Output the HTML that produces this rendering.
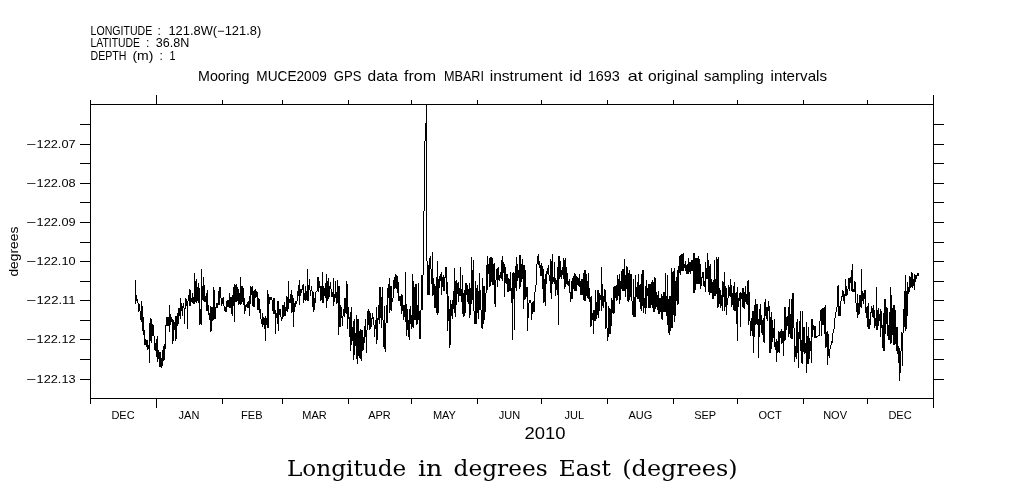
<!DOCTYPE html>
<html><head><meta charset="utf-8"><style>
html,body{margin:0;padding:0;background:#fff;width:1009px;height:504px;overflow:hidden}
svg{display:block}
text{fill:#000}
.s{font-family:"Liberation Sans",sans-serif;font-size:11px}
.s2{font-family:"Liberation Sans",sans-serif;font-size:17px}
.t{font-family:"Liberation Sans",sans-serif;font-size:15px}
.yl{font-family:"Liberation Sans",sans-serif;font-size:13.5px}
.h{font-family:"Liberation Sans",sans-serif;font-size:12px}
.serif{font-family:"DejaVu Serif",serif;font-size:21.5px}
</style></head><body>
<svg width="1009" height="504" viewBox="0 0 1009 504">
<rect width="1009" height="504" fill="#fff"/>
<g fill="#000" shape-rendering="crispEdges">
<rect x="90" y="104" width="844" height="1"/>
<rect x="90" y="398" width="844" height="1"/>
<rect x="90" y="104" width="1" height="295"/>
<rect x="933" y="104" width="1" height="295"/>
<rect x="90" y="100" width="1" height="5"/>
<rect x="90" y="398" width="1" height="6"/>
<rect x="156" y="95" width="1" height="10"/>
<rect x="156" y="398" width="1" height="10"/>
<rect x="222" y="100" width="1" height="5"/>
<rect x="222" y="398" width="1" height="6"/>
<rect x="282" y="100" width="1" height="5"/>
<rect x="282" y="398" width="1" height="6"/>
<rect x="348" y="100" width="1" height="5"/>
<rect x="348" y="398" width="1" height="6"/>
<rect x="411" y="100" width="1" height="5"/>
<rect x="411" y="398" width="1" height="6"/>
<rect x="477" y="100" width="1" height="5"/>
<rect x="477" y="398" width="1" height="6"/>
<rect x="541" y="100" width="1" height="5"/>
<rect x="541" y="398" width="1" height="6"/>
<rect x="607" y="100" width="1" height="5"/>
<rect x="607" y="398" width="1" height="6"/>
<rect x="673" y="100" width="1" height="5"/>
<rect x="673" y="398" width="1" height="6"/>
<rect x="737" y="100" width="1" height="5"/>
<rect x="737" y="398" width="1" height="6"/>
<rect x="803" y="100" width="1" height="5"/>
<rect x="803" y="398" width="1" height="6"/>
<rect x="867" y="100" width="1" height="5"/>
<rect x="867" y="398" width="1" height="6"/>
<rect x="933" y="95" width="1" height="10"/>
<rect x="933" y="398" width="1" height="10"/>
<rect x="80" y="124" width="11" height="1"/>
<rect x="933" y="124" width="11" height="1"/>
<rect x="80" y="144" width="11" height="1"/>
<rect x="933" y="144" width="11" height="1"/>
<rect x="80" y="163" width="11" height="1"/>
<rect x="933" y="163" width="11" height="1"/>
<rect x="80" y="183" width="11" height="1"/>
<rect x="933" y="183" width="11" height="1"/>
<rect x="80" y="202" width="11" height="1"/>
<rect x="933" y="202" width="11" height="1"/>
<rect x="80" y="222" width="11" height="1"/>
<rect x="933" y="222" width="11" height="1"/>
<rect x="80" y="242" width="11" height="1"/>
<rect x="933" y="242" width="11" height="1"/>
<rect x="80" y="261" width="11" height="1"/>
<rect x="933" y="261" width="11" height="1"/>
<rect x="80" y="281" width="11" height="1"/>
<rect x="933" y="281" width="11" height="1"/>
<rect x="80" y="300" width="11" height="1"/>
<rect x="933" y="300" width="11" height="1"/>
<rect x="80" y="320" width="11" height="1"/>
<rect x="933" y="320" width="11" height="1"/>
<rect x="80" y="339" width="11" height="1"/>
<rect x="933" y="339" width="11" height="1"/>
<rect x="80" y="359" width="11" height="1"/>
<rect x="933" y="359" width="11" height="1"/>
<rect x="80" y="379" width="11" height="1"/>
<rect x="933" y="379" width="11" height="1"/>
</g>
<path d="M135.5 280V304M136.5 295V301M137.5 299V303M138.5 303V312M139.5 304V311M140.5 311V320M141.5 301V322M142.5 306V331M143.5 317V335M144.5 330V345M145.5 339V345M146.5 340V347M147.5 340V350M148.5 345V349M149.5 323V363M150.5 318V341M151.5 319V343M152.5 324V336M153.5 325V336M154.5 336V350M155.5 343V351M156.5 339V357M157.5 336V362M158.5 350V359M159.5 352V367M160.5 352V367M161.5 358V368M162.5 350V366M163.5 346V361M164.5 344V360M165.5 325V349M166.5 317V326M167.5 317V326M168.5 317V326M169.5 305V332M170.5 314V325M171.5 317V322M172.5 319V344M173.5 320V341M174.5 322V330M175.5 316V341M176.5 316V339M177.5 313V326M178.5 308V324M179.5 308V316M180.5 298V319M181.5 303V311M182.5 306V316M183.5 303V308M184.5 308V324M185.5 298V309M186.5 299V306M187.5 301V329M188.5 295V301M189.5 289V306M190.5 290V306M191.5 298V302M192.5 293V303M193.5 297V304M194.5 273V304M195.5 281V302M196.5 279V303M197.5 287V301M198.5 283V303M199.5 288V325M200.5 309V324M201.5 269V325M202.5 286V300M203.5 277V301M204.5 285V302M205.5 296V302M206.5 293V311M207.5 290V311M208.5 305V315M209.5 313V320M210.5 306V332M211.5 307V331M212.5 307V321M213.5 287V320M214.5 290V319M215.5 307V319M216.5 303V308M217.5 303V308M218.5 291V305M219.5 287V305M220.5 287V298M221.5 298V306M222.5 298V304M223.5 297V306M224.5 306V311M225.5 307V312M226.5 301V312M227.5 300V307M228.5 300V307M229.5 293V308M230.5 297V308M231.5 297V314M232.5 295V316M233.5 287V306M234.5 284V322M235.5 285V302M236.5 284V302M237.5 287V301M238.5 289V305M239.5 293V304M240.5 277V305M241.5 286V304M242.5 286V302M243.5 288V305M244.5 298V314M245.5 305V311M246.5 304V307M247.5 302V308M248.5 301V308M249.5 296V316M250.5 286V304M251.5 287V295M252.5 286V306M253.5 291V307M254.5 290V307M255.5 289V298M256.5 291V297M257.5 292V310M258.5 298V310M259.5 299V313M260.5 309V319M261.5 319V324M262.5 313V327M263.5 317V325M264.5 318V329M265.5 316V341M266.5 318V325M267.5 290V328M268.5 294V328M269.5 297V304M270.5 297V300M271.5 297V300M272.5 300V311M273.5 298V314M274.5 298V314M275.5 310V334M276.5 313V318M277.5 301V324M278.5 301V331M279.5 309V315M280.5 309V317M281.5 317V321M282.5 305V319M283.5 305V317M284.5 302V316M285.5 307V316M286.5 296V311M287.5 297V312M288.5 281V309M289.5 299V303M290.5 294V303M291.5 290V313M292.5 295V312M293.5 298V327M294.5 303V312M295.5 301V307M296.5 301V304M297.5 291V301M298.5 285V296M299.5 280V305M300.5 289V296M301.5 289V293M302.5 285V290M303.5 284V303M304.5 293V300M305.5 286V301M306.5 291V300M307.5 269V301M308.5 285V301M309.5 279V290M310.5 290V296M311.5 286V291M312.5 291V307M313.5 292V312M314.5 298V310M315.5 292V303M316.5 291V292M317.5 277V291M318.5 277V292M319.5 281V288M320.5 286V301M321.5 286V300M322.5 272V303M323.5 286V303M324.5 288V296M325.5 283V298M326.5 274V308M327.5 281V301M328.5 278V299M329.5 286V297M330.5 282V289M331.5 289V297M332.5 292V297M333.5 278V306M334.5 294V302M335.5 281V298M336.5 292V304M337.5 280V303M338.5 286V335M339.5 286V327M340.5 305V327M341.5 307V318M342.5 316V326M343.5 309V316M344.5 298V317M345.5 298V313M346.5 281V314M347.5 284V329M348.5 307V319M349.5 317V337M350.5 312V351M351.5 307V345M352.5 327V341M353.5 321V360M354.5 319V355M355.5 333V346M356.5 315V359M357.5 319V364M358.5 319V356M359.5 331V358M360.5 329V359M361.5 330V361M362.5 330V351M363.5 337V350M364.5 326V343M365.5 319V337M366.5 330V353M367.5 311V330M368.5 309V325M369.5 311V330M370.5 313V329M371.5 318V327M372.5 313V319M373.5 317V325M374.5 325V337M375.5 320V329M376.5 307V344M377.5 318V340M378.5 305V320M379.5 287V324M380.5 287V318M381.5 297V328M382.5 287V320M383.5 320V347M384.5 306V349M385.5 323V352M386.5 305V323M387.5 288V323M388.5 284V298M389.5 278V313M390.5 286V310M391.5 286V311M392.5 298V302M393.5 280V298M394.5 277V289M395.5 274V288M396.5 275V289M397.5 276V293M398.5 282V301M399.5 296V301M400.5 296V306M401.5 294V314M402.5 295V311M403.5 305V320M404.5 305V317M405.5 272V322M406.5 304V336M407.5 309V330M408.5 320V337M409.5 309V340M410.5 306V324M411.5 315V329M412.5 274V327M413.5 281V328M414.5 287V320M415.5 284V320M416.5 284V325M417.5 305V324M418.5 283V320M419.5 311V339M420.5 310V339M421.5 275V310M422.5 275V310M423.5 211V275M424.5 141V211M425.5 123V141M426.5 104V261M427.5 261V295M428.5 265V295M429.5 258V295M430.5 256V269M431.5 269V284M432.5 252V296M433.5 278V295M434.5 284V308M435.5 286V308M436.5 277V313M437.5 261V315M438.5 279V313M439.5 276V288M440.5 274V281M441.5 272V295M442.5 277V287M443.5 275V291M444.5 277V291M445.5 267V278M446.5 267V294M447.5 282V331M448.5 296V321M449.5 309V348M450.5 300V345M451.5 304V316M452.5 300V319M453.5 291V309M454.5 268V313M455.5 281V317M456.5 280V305M457.5 283V294M458.5 282V302M459.5 288V296M460.5 267V296M461.5 289V302M462.5 275V314M463.5 293V317M464.5 290V316M465.5 283V313M466.5 283V295M467.5 285V302M468.5 289V304M469.5 283V318M470.5 288V315M471.5 257V304M472.5 270V300M473.5 260V311M474.5 311V324M475.5 281V324M476.5 288V324M477.5 285V313M478.5 291V319M479.5 273V310M480.5 290V310M481.5 310V328M482.5 278V329M483.5 286V324M484.5 286V320M485.5 293V312M486.5 265V293M487.5 256V290M488.5 264V274M489.5 258V287M490.5 257V286M491.5 257V282M492.5 258V285M493.5 264V285M494.5 263V304M495.5 280V307M496.5 269V280M497.5 268V287M498.5 267V280M499.5 275V281M500.5 272V278M501.5 260V279M502.5 256V281M503.5 262V273M504.5 264V297M505.5 267V283M506.5 274V284M507.5 274V292M508.5 278V292M509.5 279V291M510.5 272V291M511.5 288V303M512.5 273V340M513.5 272V299M514.5 273V330M515.5 266V288M516.5 257V291M517.5 264V281M518.5 270V278M519.5 255V289M520.5 255V287M521.5 264V282M522.5 259V279M523.5 265V309M524.5 265V300M525.5 270V299M526.5 287V297M527.5 287V331M528.5 303V318M529.5 300V303M530.5 300V303M531.5 303V320M532.5 302V314M533.5 301V312M534.5 292V312M535.5 285V292M536.5 264V285M537.5 256V264M538.5 254V265M539.5 261V268M540.5 265V276M541.5 263V276M542.5 266V289M543.5 269V303M544.5 279V302M545.5 274V306M546.5 271V284M547.5 268V274M548.5 265V275M549.5 275V281M550.5 259V293M551.5 261V299M552.5 254V284M553.5 277V282M554.5 262V284M555.5 278V296M556.5 280V290M557.5 267V295M558.5 256V325M559.5 256V279M560.5 261V277M561.5 270V279M562.5 267V275M563.5 258V279M564.5 260V289M565.5 258V287M566.5 267V284M567.5 273V285M568.5 281V286M569.5 279V293M570.5 292V302M571.5 281V299M572.5 278V299M573.5 276V289M574.5 273V291M575.5 274V291M576.5 276V291M577.5 277V285M578.5 278V286M579.5 274V287M580.5 281V295M581.5 279V295M582.5 279V295M583.5 273V300M584.5 270V301M585.5 270V301M586.5 274V296M587.5 281V298M588.5 273V299M589.5 288V302M590.5 297V327M591.5 296V326M592.5 313V320M593.5 310V334M594.5 310V321M595.5 290V321M596.5 302V319M597.5 290V315M598.5 290V318M599.5 293V311M600.5 295V300M601.5 267V311M602.5 284V306M603.5 296V308M604.5 289V302M605.5 290V329M606.5 302V328M607.5 328V341M608.5 306V337M609.5 308V334M610.5 309V334M611.5 298V326M612.5 300V313M613.5 287V314M614.5 286V313M615.5 286V298M616.5 285V301M617.5 275V300M618.5 279V296M619.5 274V304M620.5 281V300M621.5 271V289M622.5 269V291M623.5 269V291M624.5 259V291M625.5 275V297M626.5 266V289M627.5 267V301M628.5 273V302M629.5 270V300M630.5 274V297M631.5 274V301M632.5 301V315M633.5 279V317M634.5 297V317M635.5 275V317M636.5 287V297M637.5 282V299M638.5 274V299M639.5 285V302M640.5 284V309M641.5 274V311M642.5 270V306M643.5 270V313M644.5 298V308M645.5 286V314M646.5 280V308M647.5 288V296M648.5 284V308M649.5 284V308M650.5 284V308M651.5 282V305M652.5 280V308M653.5 282V312M654.5 277V312M655.5 278V309M656.5 292V307M657.5 295V310M658.5 291V314M659.5 298V314M660.5 298V312M661.5 294V319M662.5 296V320M663.5 292V312M664.5 292V312M665.5 273V312M666.5 296V316M667.5 275V325M668.5 299V333M669.5 296V335M670.5 296V331M671.5 268V328M672.5 272V328M673.5 271V315M674.5 268V322M675.5 281V316M676.5 277V301M677.5 270V305M678.5 266V304M679.5 256V273M680.5 255V275M681.5 254V271M682.5 254V271M683.5 253V271M684.5 264V268M685.5 261V271M686.5 265V274M687.5 264V274M688.5 258V274M689.5 262V272M690.5 262V274M691.5 260V271M692.5 260V271M693.5 253V293M694.5 253V293M695.5 258V290M696.5 258V284M697.5 258V284M698.5 256V284M699.5 259V284M700.5 264V289M701.5 277V286M702.5 272V278M703.5 272V286M704.5 281V287M705.5 262V292M706.5 268V279M707.5 253V279M708.5 260V292M709.5 266V295M710.5 264V293M711.5 279V293M712.5 282V299M713.5 280V299M714.5 260V296M715.5 279V296M716.5 257V294M717.5 259V308M718.5 257V307M719.5 288V304M720.5 290V308M721.5 295V306M722.5 281V311M723.5 282V297M724.5 272V311M725.5 286V307M726.5 288V315M727.5 298V305M728.5 285V298M729.5 287V296M730.5 279V297M731.5 285V307M732.5 293V305M733.5 286V310M734.5 282V311M735.5 293V311M736.5 292V324M737.5 287V341M738.5 298V307M739.5 293V301M740.5 292V327M741.5 293V299M742.5 288V307M743.5 288V308M744.5 292V309M745.5 286V302M746.5 294V304M747.5 281V305M748.5 280V325M749.5 292V321M750.5 321V336M751.5 318V331M752.5 311V336M753.5 311V353M754.5 305V337M755.5 299V325M756.5 304V324M757.5 304V325M758.5 319V358M759.5 309V337M760.5 304V325M761.5 315V333M762.5 320V335M763.5 318V342M764.5 302V343M765.5 299V316M766.5 307V319M767.5 307V321M768.5 301V311M769.5 306V353M770.5 317V353M771.5 312V349M772.5 320V342M773.5 328V338M774.5 319V347M775.5 342V350M776.5 339V362M777.5 341V353M778.5 331V352M779.5 332V353M780.5 331V338M781.5 329V344M782.5 331V343M783.5 331V356M784.5 307V341M785.5 307V340M786.5 317V330M787.5 316V326M788.5 307V337M789.5 299V334M790.5 314V338M791.5 299V339M792.5 293V339M793.5 293V328M794.5 328V362M795.5 346V357M796.5 322V359M797.5 319V353M798.5 332V368M799.5 321V339M800.5 311V351M801.5 340V363M802.5 311V364M803.5 327V352M804.5 327V354M805.5 343V353M806.5 322V373M807.5 336V364M808.5 327V364M809.5 338V359M810.5 341V351M811.5 319V363M812.5 319V337M813.5 325V330M814.5 326V338M815.5 326V338M816.5 336V338M817.5 336V337M818.5 335V336M819.5 321V336M820.5 310V321M821.5 309V336M822.5 308V325M823.5 308V325M824.5 307V334M825.5 305V348M826.5 332V347M827.5 331V365M828.5 334V356M829.5 349V358M830.5 345V349M831.5 341V345M832.5 333V343M833.5 329V333M834.5 318V329M835.5 312V318M836.5 307V312M837.5 286V307M838.5 285V316M839.5 306V316M840.5 301V316M841.5 296V301M842.5 290V297M843.5 291V301M844.5 294V304M845.5 279V296M846.5 286V296M847.5 289V295M848.5 278V289M849.5 278V291M850.5 277V283M851.5 270V291M852.5 264V292M853.5 289V292M854.5 281V292M855.5 282V303M856.5 303V312M857.5 294V318M858.5 303V315M859.5 295V314M860.5 295V307M861.5 269V308M862.5 291V301M863.5 293V304M864.5 290V299M865.5 290V313M866.5 307V318M867.5 306V327M868.5 303V329M869.5 319V329M870.5 312V325M871.5 306V313M872.5 308V317M873.5 305V318M874.5 310V328M875.5 318V326M876.5 287V330M877.5 310V330M878.5 308V326M879.5 314V321M880.5 309V337M881.5 311V328M882.5 325V348M883.5 313V351M884.5 299V351M885.5 299V334M886.5 307V324M887.5 308V336M888.5 325V340M889.5 312V340M890.5 287V344M891.5 295V343M892.5 308V335M893.5 305V345M894.5 305V345M895.5 310V344M896.5 327V351M897.5 327V354M898.5 346V363M899.5 348V381M900.5 351V373M901.5 332V351M902.5 333V366M903.5 309V333M904.5 291V327M905.5 275V331M906.5 291V329M907.5 282V316M908.5 287V294M909.5 276V292M910.5 277V288M911.5 272V287M912.5 273V288M913.5 279V286M914.5 274V290M915.5 275V282M916.5 275V279M917.5 273V276M918.5 273V276" stroke="#000" stroke-width="1" fill="none" shape-rendering="crispEdges"/>
<text class="s" x="26.2" y="148.3" textLength="10" lengthAdjust="spacingAndGlyphs">−</text>
<text class="s" x="36.6" y="148.3" textLength="39" lengthAdjust="spacingAndGlyphs">122.07</text>
<text class="s" x="26.2" y="187.3" textLength="10" lengthAdjust="spacingAndGlyphs">−</text>
<text class="s" x="36.6" y="187.3" textLength="39" lengthAdjust="spacingAndGlyphs">122.08</text>
<text class="s" x="26.2" y="226.3" textLength="10" lengthAdjust="spacingAndGlyphs">−</text>
<text class="s" x="36.6" y="226.3" textLength="39" lengthAdjust="spacingAndGlyphs">122.09</text>
<text class="s" x="26.2" y="265.3" textLength="10" lengthAdjust="spacingAndGlyphs">−</text>
<text class="s" x="36.6" y="265.3" textLength="39" lengthAdjust="spacingAndGlyphs">122.10</text>
<text class="s" x="26.2" y="304.3" textLength="10" lengthAdjust="spacingAndGlyphs">−</text>
<text class="s" x="36.6" y="304.3" textLength="39" lengthAdjust="spacingAndGlyphs">122.11</text>
<text class="s" x="26.2" y="343.3" textLength="10" lengthAdjust="spacingAndGlyphs">−</text>
<text class="s" x="36.6" y="343.3" textLength="39" lengthAdjust="spacingAndGlyphs">122.12</text>
<text class="s" x="26.2" y="383.3" textLength="10" lengthAdjust="spacingAndGlyphs">−</text>
<text class="s" x="36.6" y="383.3" textLength="39" lengthAdjust="spacingAndGlyphs">122.13</text>
<text class="s" x="123.0" y="418.6" text-anchor="middle">DEC</text>
<text class="s" x="189.0" y="418.6" text-anchor="middle">JAN</text>
<text class="s" x="251.8" y="418.6" text-anchor="middle">FEB</text>
<text class="s" x="314.6" y="418.6" text-anchor="middle">MAR</text>
<text class="s" x="379.5" y="418.6" text-anchor="middle">APR</text>
<text class="s" x="444.4" y="418.6" text-anchor="middle">MAY</text>
<text class="s" x="509.4" y="418.6" text-anchor="middle">JUN</text>
<text class="s" x="574.3" y="418.6" text-anchor="middle">JUL</text>
<text class="s" x="640.3" y="418.6" text-anchor="middle">AUG</text>
<text class="s" x="705.2" y="418.6" text-anchor="middle">SEP</text>
<text class="s" x="770.1" y="418.6" text-anchor="middle">OCT</text>
<text class="s" x="835.1" y="418.6" text-anchor="middle">NOV</text>
<text class="s" x="900.0" y="418.6" text-anchor="middle">DEC</text>
<text class="s2" x="545" y="439" text-anchor="middle" textLength="41" lengthAdjust="spacingAndGlyphs">2010</text>
<text class="h" x="90.6" y="35" textLength="61.7" lengthAdjust="spacingAndGlyphs">LONGITUDE</text>
<text class="h" x="168.4" y="35" textLength="92.8" lengthAdjust="spacingAndGlyphs">121.8W(−121.8)</text>
<text class="h" x="157.6" y="35">:</text>
<text class="h" x="90.6" y="47" textLength="49.4" lengthAdjust="spacingAndGlyphs">LATITUDE</text>
<text class="h" x="155.8" y="47" textLength="33.6" lengthAdjust="spacingAndGlyphs">36.8N</text>
<text class="h" x="146" y="47">:</text>
<text class="h" x="90.6" y="60" textLength="35.9" lengthAdjust="spacingAndGlyphs">DEPTH</text>
<text class="h" x="132.4" y="60" textLength="21.0" lengthAdjust="spacingAndGlyphs">(m)</text>
<text class="h" x="169.4" y="60" textLength="6.0" lengthAdjust="spacingAndGlyphs">1</text>
<text class="h" x="159.4" y="60">:</text>
<text class="t" x="198.1" y="81" textLength="51.4" lengthAdjust="spacingAndGlyphs">Mooring</text>
<text class="t" x="256.3" y="81" textLength="70.6" lengthAdjust="spacingAndGlyphs">MUCE2009</text>
<text class="t" x="333.8" y="81" textLength="27.6" lengthAdjust="spacingAndGlyphs">GPS</text>
<text class="t" x="367.6" y="81" textLength="30.2" lengthAdjust="spacingAndGlyphs">data</text>
<text class="t" x="404.0" y="81" textLength="32.0" lengthAdjust="spacingAndGlyphs">from</text>
<text class="t" x="443.9" y="81" textLength="40.1" lengthAdjust="spacingAndGlyphs">MBARI</text>
<text class="t" x="489.7" y="81" textLength="72.8" lengthAdjust="spacingAndGlyphs">instrument</text>
<text class="t" x="569.3" y="81" textLength="12.8" lengthAdjust="spacingAndGlyphs">id</text>
<text class="t" x="587.8" y="81" textLength="32.0" lengthAdjust="spacingAndGlyphs">1693</text>
<text class="t" x="627.7" y="81" textLength="15.0" lengthAdjust="spacingAndGlyphs">at</text>
<text class="t" x="648.0" y="81" textLength="50.3" lengthAdjust="spacingAndGlyphs">original</text>
<text class="t" x="704.1" y="81" textLength="59.6" lengthAdjust="spacingAndGlyphs">sampling</text>
<text class="t" x="770.6" y="81" textLength="56.4" lengthAdjust="spacingAndGlyphs">intervals</text>
<text class="serif" x="286.9" y="476" textLength="119.3" lengthAdjust="spacingAndGlyphs">Longitude</text>
<text class="serif" x="418.0" y="476" textLength="24.4" lengthAdjust="spacingAndGlyphs">in</text>
<text class="serif" x="453.5" y="476" textLength="94.1" lengthAdjust="spacingAndGlyphs">degrees</text>
<text class="serif" x="558.8" y="476" textLength="52.0" lengthAdjust="spacingAndGlyphs">East</text>
<text class="serif" x="622.3" y="476" textLength="115.3" lengthAdjust="spacingAndGlyphs">(degrees)</text>
<text class="yl" transform="translate(18.2,276.6) rotate(-90)" textLength="50" lengthAdjust="spacingAndGlyphs">degrees</text>
</svg>
</body></html>
